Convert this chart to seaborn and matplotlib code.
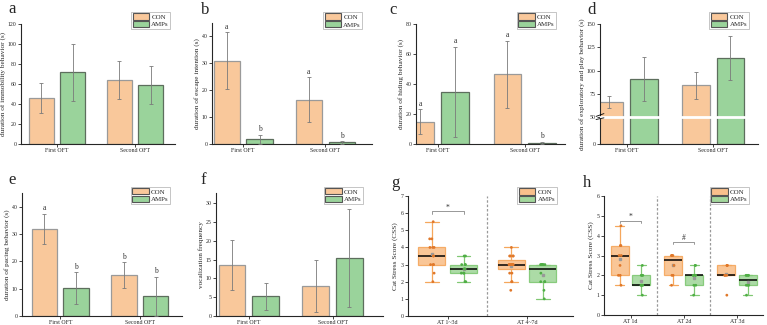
import numpy as np
import pandas as pd
import matplotlib
matplotlib.use("Agg")
import matplotlib.pyplot as plt
import seaborn as sns
from matplotlib.patches import Patch

# ---------- data ----------
groups = ['CON', 'AMPs']
tests = ['First OFT', 'Second OFT']

# a: immobility
immob_con = [46, 64]
immob_con_sd = [15, 19]
immob_amp = [72, 59]
immob_amp_sd = [28.5, 19]
# b: escape intention
escape_con = [31, 16.5]
escape_con_sd = [10.5, 8.3]
escape_amp = [1.8, 0.6]
escape_amp_sd = [1.7, 0.6]
escape_letters = [['a', 'a'], ['b', 'b']]
# c: hiding
hiding_con = [15, 46.5]
hiding_con_sd = [8.5, 22.5]
hiding_amp = [35, 0.8]
hiding_amp_sd = [30, 0.8]
hiding_letters = [['a', 'a'], ['a', 'b']]
# d: exploratory and play
explor_con = [66.4, 84.6]
explor_con_sd = [6.5, 14.5]
explor_amp = [91, 113.6]
explor_amp_sd = [23.8, 23.5]
# e: pacing
pacing_con = [32, 15]
pacing_con_sd = [5.5, 4.8]
pacing_amp = [10.2, 7.2]
pacing_amp_sd = [5.9, 7.2]
pacing_letters = [['a', 'b'], ['b', 'b']]
# f: vocalization
vocal_con = [13.5, 8]
vocal_con_sd = [6.7, 7]
vocal_amp = [5.2, 15.5]
vocal_amp_sd = [3.5, 13]

# g: cat stress score, AT 1~3d / AT 4~7d
g_periods = ['AT 1~3d', 'AT 4~7d']
g_con_13 = [2, 2.5, 3, 3, 3, 3.5, 3.5, 4, 4, 4, 4.5, 4.5, 5.5]
g_amp_13 = [2, 2, 2.5, 2.5, 2.5, 2.75, 2.75, 3, 3, 3, 3.5, 3.5]
g_con_47 = [1.5, 2, 2, 2.5, 2.5, 3, 3, 3, 3, 3, 3, 3, 3, 3, 3.5, 3.5, 3.5, 3.5, 4]
g_amp_47 = [1, 1.5, 2, 2, 2, 2.5, 3, 3, 3, 3, 3, 3]
# h: cat stress score, AT 1d / 2d / 3d
h_days = ['AT 1d', 'AT 2d', 'AT 3d']
h_con_1 = [1.5, 2, 2, 2.5, 3, 3, 3.5, 3.5, 4.5]
h_amp_1 = [1, 1.5, 1.5, 1.5, 1.5, 2, 2, 2, 2.5]
h_con_2 = [1.5, 2, 2, 2.5, 3, 3, 3, 3]
h_amp_2 = [1, 1.5, 1.5, 2, 2, 2, 2, 2.5, 2.5]
h_con_3 = [1, 2, 2, 2, 2.5, 2.5, 2.5]
h_amp_3 = [1, 1.5, 1.5, 1.5, 2, 2, 2, 2]

# ---------- style ----------
sns.set_style('ticks')
plt.rcParams['font.family'] = ['Liberation Serif', 'DejaVu Serif']
plt.rcParams['axes.linewidth'] = 0.8

bar_colors = {'CON': '#F9C89B', 'AMPs': '#9AD39B'}
bar_edges = {'CON': '#9a9a9a', 'AMPs': '#5d6e5d'}
box_fill = {'CON': '#F9C08C', 'AMPs': '#A3D79C'}
box_line = {'CON': '#F5A75C', 'AMPs': '#80C873'}
pt_color = {'CON': '#E0782A', 'AMPs': '#4FAE45'}

W, H = 767, 325
fig = plt.figure(figsize=(W / 100, H / 100), dpi=100)


def px_axes(l, t, r, b):
    return fig.add_axes([l / W, 1 - b / H, (r - l) / W, (b - t) / H])


def style_axes(ax):
    sns.despine(ax=ax)
    ax.tick_params(axis='both', direction='out', length=2, width=0.6,
                   labelsize=4.2, pad=1.2)
    ax.set_xlabel('')


def add_legend(ax, handles=None, anchor=(1.0, 1.1)):
    if handles is None:
        handles = [Patch(facecolor=bar_colors[g], edgecolor='#555555', lw=0.8, label=g)
                   for g in groups]
    leg = ax.legend(handles=handles, loc='upper right', bbox_to_anchor=anchor,
                    fontsize=5, frameon=True, fancybox=False, borderpad=0.2,
                    labelspacing=0.15, handlelength=2.4, handleheight=1.0,
                    handletextpad=0.3, borderaxespad=0)
    leg.get_frame().set_edgecolor('#aaaaaa')
    leg.get_frame().set_linewidth(0.6)


def bar_panel(ax, con, con_sd, amp, amp_sd, ylabel, ylim, yticks, xlim,
              letters=None, anchor=(1.0, 1.1)):
    df = pd.DataFrame({
        'test': tests * 2,
        'group': ['CON'] * 2 + ['AMPs'] * 2,
        'mean': con + amp,
    })
    sns.barplot(data=df, x='test', y='mean', hue='group', hue_order=groups,
                palette=bar_colors, errorbar=None, width=0.8, gap=0.2,
                saturation=1, linewidth=0.9, ax=ax, legend=False)
    sds = [con_sd, amp_sd]
    means = [con, amp]
    bar_conts = list(ax.containers)
    for gi, cont in enumerate(bar_conts):
        for bi, bar in enumerate(cont.patches):
            bar.set_edgecolor(bar_edges[groups[gi]])
            xc = bar.get_x() + bar.get_width() / 2
            m, s = means[gi][bi], sds[gi][bi]
            lo = min(s, m)
            ax.errorbar(xc, m, yerr=[[lo], [s]], fmt='none', ecolor='#7a7a7a',
                        elinewidth=0.6, capsize=1.3, capthick=0.6, zorder=4)
            if letters is not None:
                ax.text(xc, m + s + (ylim[1] * 0.01), letters[gi][bi],
                        ha='center', va='bottom', fontsize=5.5, color='#333333')
    ax.set_ylim(*ylim)
    ax.set_yticks(yticks)
    ax.set_xlim(*xlim)
    ax.set_ylabel(ylabel, fontsize=5.2, labelpad=1)
    style_axes(ax)
    add_legend(ax, anchor=anchor)


# ---------- top row ----------
ax_a = px_axes(21, 24, 175, 144)
bar_panel(ax_a, immob_con, immob_con_sd, immob_amp, immob_amp_sd,
          'duration of immobility behavior (s)', (0, 120), range(0, 121, 20),
          (-0.46, 1.51), anchor=(0.97, 1.1))

ax_b = px_axes(212, 23, 372, 144)
bar_panel(ax_b, escape_con, escape_con_sd, escape_amp, escape_amp_sd,
          'duration of escape intention (s)', (0, 45), range(0, 41, 10),
          (-0.38, 1.57), letters=escape_letters, anchor=(0.94, 1.09))

ax_c = px_axes(416, 24, 565, 144)
bar_panel(ax_c, hiding_con, hiding_con_sd, hiding_amp, hiding_amp_sd,
          'duration of hiding behavior (s)', (0, 80), range(0, 81, 20),
          (-0.25, 1.46), letters=hiding_letters, anchor=(0.94, 1.1))

# d: broken y axis (0-50 compressed)
def fwd(y):
    y = np.asarray(y, dtype=float)
    return np.where(y <= 50, y * 1.6, 80 + (y - 50) * 2.8)


def inv(v):
    v = np.asarray(v, dtype=float)
    return np.where(v <= 80, v / 1.6, 50 + (v - 80) / 2.8)


ax_d = px_axes(600, 24, 758, 144)
ax_d.set_yscale('function', functions=(fwd, inv))
bar_panel(ax_d, explor_con, explor_con_sd, explor_amp, explor_amp_sd,
          'duration of exploratory and play behavior (s)', (0, 150),
          [0, 50, 75, 100, 125, 150], (-0.31, 1.52), anchor=(0.94, 1.1))
ax_d.axhline(50, color='white', lw=2, zorder=6)
for dy in (-2.5, 2.5):
    ax_d.plot([-0.025, 0.025], [50 + dy - 1.5, 50 + dy + 1.5], color='black',
              lw=0.6, transform=ax_d.get_yaxis_transform(), clip_on=False, zorder=7)

# ---------- bottom row ----------
ax_e = px_axes(22, 193, 182, 316)
bar_panel(ax_e, pacing_con, pacing_con_sd, pacing_amp, pacing_amp_sd,
          'duration of pacing behavior (s)', (0, 45), range(0, 41, 10),
          (-0.48, 1.53), letters=pacing_letters, anchor=(0.925, 1.05))

ax_f = px_axes(216, 193, 383, 316)
bar_panel(ax_f, vocal_con, vocal_con_sd, vocal_amp, vocal_amp_sd,
          'vocalization frequency', (0, 32.7), range(0, 31, 5),
          (-0.39, 1.6), anchor=(0.88, 1.05))


def box_panel(ax, cats, con_lists, amp_lists, anchor):
    rows = []
    for c, vals in zip(cats, con_lists):
        rows += [(c, 'CON', v) for v in vals]
    for c, vals in zip(cats, amp_lists):
        rows += [(c, 'AMPs', v) for v in vals]
    df = pd.DataFrame(rows, columns=['period', 'group', 'score'])
    sns.boxplot(data=df, x='period', y='score', hue='group', order=cats,
                hue_order=groups, palette=box_fill, width=0.8, gap=0.15,
                saturation=1, linewidth=0.9, showfliers=False,
                showmeans=True,
                meanprops=dict(marker='s', markersize=1.6,
                               markerfacecolor='#999999',
                               markeredgecolor='#999999'),
                medianprops=dict(color='black', lw=1.1),
                ax=ax, legend=False)
    # recolour box outlines/whiskers per group
    for gi, cont in enumerate(list(ax.containers)):
        col = box_line[groups[gi]]
        for b in cont.boxes:
            b.set_edgecolor(col)
            b.set_alpha(0.9)
        for ln in list(cont.whiskers) + list(cont.caps):
            ln.set_color(col)
    sns.stripplot(data=df, x='period', y='score', hue='group', order=cats,
                  hue_order=groups, palette=pt_color, dodge=True, jitter=0.06,
                  size=2, ax=ax, legend=False, zorder=5)
    for i in range(len(cats) - 1):
        ax.axvline(i + 0.5, color='#999999', lw=0.9, ls=(0, (2, 1.5)))
    style_axes(ax)
    ax.set_ylabel('Cat Stress Score (CSS)', fontsize=5.2, labelpad=2)
    handles = [Patch(facecolor=box_fill[g], edgecolor='#555555', lw=0.8, label=g)
               for g in groups]
    add_legend(ax, handles, anchor=anchor)


def bracket(ax, x, y, h, label):
    ax.plot([x - 0.2, x - 0.2, x + 0.2, x + 0.2], [y - h, y, y, y - h],
            color='#888888', lw=0.6)
    ax.text(x, y, label, ha='center', va='bottom', fontsize=5.5, color='#333333')


ax_g = px_axes(408, 196, 573, 316)
box_panel(ax_g, g_periods, [g_con_13, g_con_47], [g_amp_13, g_amp_47],
          anchor=(0.9, 1.075))
ax_g.set_ylim(0, 7)
ax_g.set_yticks(range(0, 8))
ax_g.set_xlim(-0.5, 1.58)
bracket(ax_g, 0, 6.1, 0.15, '*')

ax_h = px_axes(604, 196, 763, 315)
box_panel(ax_h, h_days, [h_con_1, h_con_2, h_con_3], [h_amp_1, h_amp_2, h_amp_3],
          anchor=(0.91, 1.075))
ax_h.set_ylim(0, 6)
ax_h.set_yticks(range(0, 7))
ax_h.set_xlim(-0.5, 2.49)
bracket(ax_h, 0, 4.75, 0.12, '*')
bracket(ax_h, 1, 3.7, 0.12, '#')

# ---------- panel letters ----------
for lab, (x, y) in zip('abcdefgh', [(12, 9), (205, 10), (393, 10), (592, 10),
                                    (12, 180), (203, 180), (395, 183), (587, 183)]):
    fig.text(x / W, 1 - y / H, lab, fontsize=12, ha='center', va='center')

fig.savefig('out.png', dpi=100)
